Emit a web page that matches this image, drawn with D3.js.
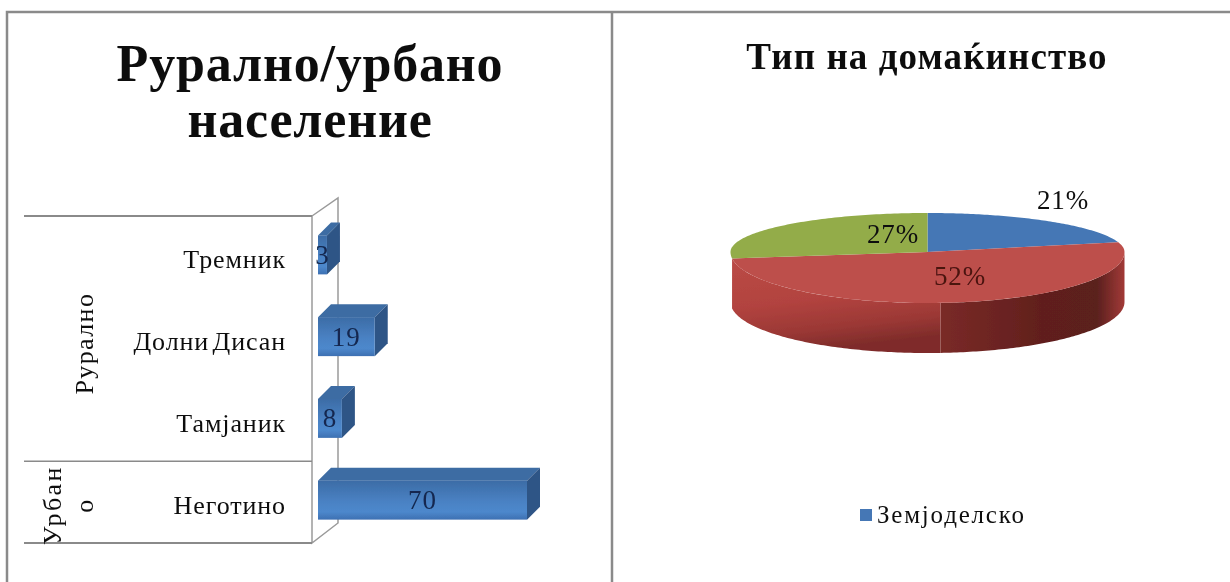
<!DOCTYPE html>
<html><head><meta charset="utf-8">
<script src="https://cdnjs.cloudflare.com/ajax/libs/d3/7.8.5/d3.min.js"></script>
<style>html,body{margin:0;padding:0;background:#fff}svg{display:block}text{font-family:"Liberation Serif",serif;fill:#111}</style>
</head><body><div id="c"></div>
<script>
const categories = ["Тремник","Долни Дисан","Тамјаник","Неготино"];
const barValues = [3,19,8,70];
const groups = [{name:["Рурално"],from:0,to:3},{name:["Урбан","о"],from:3,to:4}];
const pieValues = [21,52,27];
const pieLabels = ["21%","52%","27%"];
const pieColors = ["#4477b5","#bd4f4b","#93ac4a"];
const legendLabel = "Земјоделско";
const title1 = ["Рурално/урбано","население"];
const title2 = "Тип на домаќинство";

const svg = d3.select("#c").append("svg").attr("width",1230).attr("height",582);
const defs = svg.append("defs");
const lg=(id,stops,x2=0,y2=1)=>{const g=defs.append("linearGradient").attr("id",id).attr("x1",0).attr("y1",0).attr("x2",x2).attr("y2",y2);
  stops.forEach(s=>g.append("stop").attr("offset",s[0]).attr("stop-color",s[1]));};
lg("front",[[0,"#3c6ca6"],[.55,"#4a82c4"],[.8,"#4d88cc"],[1,"#3d70b2"]]);
lg("side",[[0,"#bb4a46"],[.5,"#b2433f"],[.8,"#9b3835"],[1,"#7f2c2a"]],0.25,1);
lg("sideV",[[0,"#7a2a27"],[.55,"#611f1d"],[.85,"#5a201e"],[1,"#a23a37"]],1,0);
defs.append("filter").attr("id","soft").append("feGaussianBlur").attr("stdDeviation",.6);

// panel frames
const frame=svg.append("g").attr("stroke","#8a8a8a").attr("fill","none").attr("stroke-width",2.5);
frame.append("path").attr("d","M7 582V12H1230M612 12V582");

// titles
const t=svg.append("g").attr("filter","url(#soft)");
t.selectAll(".t1").data(title1).join("text").attr("x",310).attr("y",(d,i)=>81+i*56)
 .attr("text-anchor","middle").attr("font-weight","bold").attr("font-size",52).attr("letter-spacing",.8).text(d=>d);
t.append("text").attr("x",927).attr("y",69).attr("text-anchor","middle").attr("font-weight","bold").attr("font-size",37).attr("letter-spacing",1.1).text(title2);

// bars
const x=d3.scaleLinear().domain([0,70]).range([318,527]);
const y=d3.scaleBand().domain(categories).range([216,543]);
const depth=13, bh=39;
const chart=svg.append("g").attr("filter","url(#soft)");
const ax=chart.append("g").attr("fill","none");
ax.append("path").attr("stroke","#9a9a9a").attr("stroke-width",1.5).attr("d",`M312 216V543L338 523V198L312 216`);
ax.append("path").attr("stroke","#8a8a8a").attr("stroke-width",2).attr("d",`M24 216H312M24 543H312`);
ax.append("path").attr("stroke","#8a8a8a").attr("stroke-width",1.5).attr("d",`M24 ${y(categories[3])}H312`);
const bars=chart.selectAll(".bar").data(categories.map((c,i)=>({c,v:barValues[i]}))).join("g");
const by=d=>y(d.c)+y.bandwidth()/2-bh/2-2;
bars.append("path").attr("fill","#3d6ca3").attr("d",d=>`M${x(0)} ${by(d)}l${depth} ${-depth}H${x(d.v)+depth}l${-depth} ${depth}Z`);
bars.append("path").attr("fill","#2f5586").attr("d",d=>`M${x(d.v)} ${by(d)}l${depth} ${-depth}v${bh}l${-depth} ${depth}Z`);
bars.append("rect").attr("fill","url(#front)").attr("x",x(0)).attr("y",by).attr("width",d=>x(d.v)-x(0)).attr("height",bh);
bars.append("text").attr("x",d=>Math.max((x(d.v)+x(0))/2,322)).attr("y",d=>by(d)+bh/2+9).attr("text-anchor","middle")
 .attr("font-size",27).attr("letter-spacing",1).style("fill","#12284f").text(d=>d.v);
chart.selectAll(".cat").data(categories).join("text").attr("x",286).attr("y",d=>y(d)+y.bandwidth()/2+11.5)
 .attr("text-anchor","end").attr("font-size",26).attr("letter-spacing",.9).attr("word-spacing",-4).text(d=>d);
groups.forEach(g=>{
  const cy=(y(categories[g.from])+y(categories[g.to-1])+y.bandwidth())/2;
  g.name.forEach((n,i)=>{
    const two=g.name.length>1;
    const px=(two?52:84)+i*32;
    chart.append("text").attr("transform",`translate(${px},${cy+(two?3:5)}) rotate(-90)`)
     .attr("text-anchor","middle").attr("dy","0.35em").attr("font-size",26).attr("letter-spacing",two?2.4:1.4).text(n);
  });
});

// pie: the back half of the ellipse is flatter than the front half, as in a perspective view
const cx=927.5, cyP=252, rx=197, ryBack=39, ryFront=51, h=50;
const pie=d3.pie().sort(null)(pieValues);
const pt=(a,dy=0)=>{const c=Math.cos(a);return [cx+rx*Math.sin(a),cyP-(c>0?ryBack:ryFront)*c+dy];};
const samples=(a0,a1,n=90)=>d3.range(0,n+1).map(i=>a0+(a1-a0)*i/n);
const line=d3.line();
const p=svg.append("g").attr("filter","url(#soft)");
const red=pie[1];
const aL=Math.max(red.startAngle,Math.PI/2), aR=Math.min(red.endAngle,Math.PI*1.5);
const wall=(a0,a1)=>{const as=samples(a0,a1);
  return line([...as.map(a=>pt(a)),...as.slice().reverse().map(a=>pt(a,h))])+"Z";};
const split=Math.PI-Math.asin(13/rx);
p.append("path").attr("fill","url(#sideV)").attr("d",wall(aL,split));
p.append("path").attr("fill","url(#side)").attr("d",wall(split,aR));
p.selectAll(".s").data(pie).join("path").attr("fill",(d,i)=>pieColors[i])
 .attr("d",d=>line([[cx,cyP],...samples(d.startAngle,d.endAngle).map(a=>pt(a))])+"Z");
const lp=[[1063,209],[960,285],[893,243]];
p.selectAll(".pl").data(pieLabels).join("text").attr("x",(d,i)=>lp[i][0]).attr("y",(d,i)=>lp[i][1]).attr("text-anchor","middle")
 .attr("font-size",27).attr("letter-spacing",.8).style("fill",(d,i)=>i==1?"#4a1210":"#111").text(d=>d);

// legend
const l=svg.append("g").attr("filter","url(#soft)");
l.append("rect").attr("x",860).attr("y",509).attr("width",12).attr("height",12).attr("fill",pieColors[0]);
l.append("text").attr("x",877).attr("y",523).attr("font-size",25).attr("letter-spacing",1.8).text(legendLabel);
</script></body></html>
